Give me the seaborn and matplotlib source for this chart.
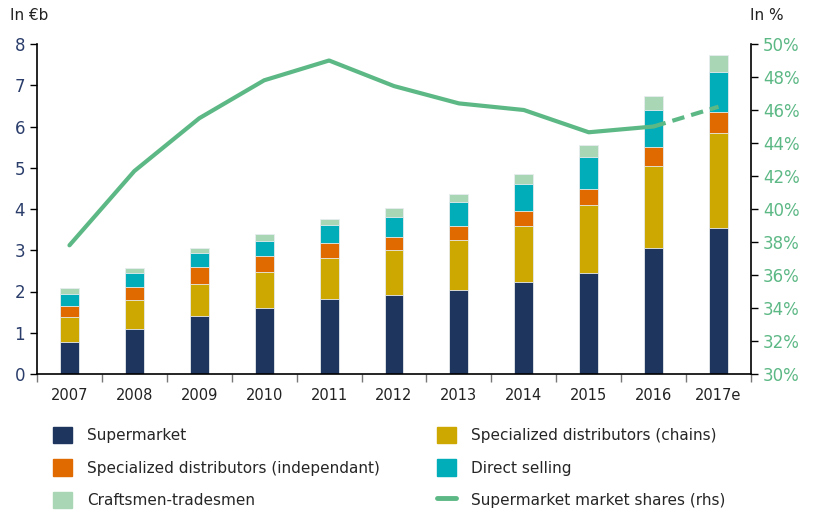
import numpy as np
import pandas as pd
import matplotlib
matplotlib.use("Agg")
import matplotlib.pyplot as plt
import seaborn as sns
from matplotlib.patches import Patch
from matplotlib.lines import Line2D

# data (in EUR bn, stacked layers) and rhs share in %
years = ["2007", "2008", "2009", "2010", "2011", "2012", "2013", "2014", "2015", "2016", "2017e"]
supermarket = [0.78, 1.09, 1.41, 1.61, 1.83, 1.91, 2.04, 2.22, 2.46, 3.05, 3.55]
chains = [0.61, 0.70, 0.78, 0.86, 0.99, 1.10, 1.21, 1.38, 1.64, 1.99, 2.29]
independent = [0.25, 0.32, 0.40, 0.38, 0.35, 0.31, 0.35, 0.34, 0.38, 0.46, 0.52]
direct = [0.31, 0.35, 0.34, 0.38, 0.43, 0.49, 0.58, 0.67, 0.79, 0.90, 0.96]
craftsmen = [0.13, 0.12, 0.12, 0.16, 0.15, 0.21, 0.19, 0.23, 0.27, 0.35, 0.41]
share = [37.8, 42.3, 45.5, 47.8, 49.0, 47.45, 46.4, 46.0, 44.65, 45.0, 46.2]

labels = ["Supermarket", "Specialized distributors (chains)",
          "Specialized distributors (independant)", "Direct selling",
          "Craftsmen-tradesmen"]
colors = ["#1e355e", "#cca800", "#e06a00", "#00adb9", "#a9d6b5"]
line_color = "#5cb885"
navy = "#2a3d6b"

sns.set_style("white")
plt.rcParams["font.family"] = ["DejaVu Sans"]

df = pd.DataFrame({"year": years, labels[0]: supermarket, labels[1]: chains,
                   labels[2]: independent, labels[3]: direct, labels[4]: craftsmen})
cum = df[labels].cumsum(axis=1)

fig = plt.figure(figsize=(8.22, 5.13), dpi=100)
ax = fig.add_axes([37 / 822, 1 - 374 / 513, 714 / 822, 330 / 513])

# stacked bars: draw the cumulative totals from the top layer down
for lab, col in reversed(list(zip(labels, colors))):
    sns.barplot(x=df["year"], y=cum[lab], color=col, width=0.29,
                edgecolor="#e8ecef", linewidth=0.6, saturation=1, ax=ax)

ax.set_xlim(-0.5, len(years) - 0.5)
ax.set_ylim(0, 8)
ax.set_yticks(range(0, 9))
ax.set_xlabel("")
ax.set_ylabel("")
ax.tick_params(axis="y", colors="black", labelcolor=navy, labelsize=12,
               length=5, width=1, left=True, direction="out")
ax.set_xticks(np.arange(-0.5, len(years)), minor=True)
ax.tick_params(axis="x", which="major", length=0, labelsize=10.5, pad=10, labelcolor="#222222")
ax.tick_params(axis="x", which="minor", length=6, width=1, color="#777777", bottom=True)
for s in ["top", "right"]:
    ax.spines[s].set_visible(False)
for s in ["left", "bottom"]:
    ax.spines[s].set_color("black")
    ax.spines[s].set_linewidth(1.2)

ax2 = ax.twinx()
xs = np.arange(len(years))
sns.lineplot(x=xs[:-1], y=share[:-1], color=line_color, linewidth=3, ax=ax2)
sns.lineplot(x=xs[-2:], y=share[-2:], color=line_color, linewidth=3, ax=ax2,
             linestyle=(0, (3, 1.7)))
ax2.set_ylim(30, 50)
ax2.set_yticks(range(30, 51, 2))
ax2.set_yticklabels([f"{v}%" for v in range(30, 51, 2)])
ax2.tick_params(axis="y", colors="black", labelcolor=line_color, labelsize=12,
                length=5, width=1, right=True, direction="out")
ax2.set_ylabel("")
for s in ["top", "left", "bottom"]:
    ax2.spines[s].set_visible(False)
ax2.spines["right"].set_color("black")
ax2.spines["right"].set_linewidth(1.2)
ax2.set_xlim(-0.5, len(years) - 0.5)

fig.text(10 / 822, 1 - 16 / 513, "In €b", fontsize=11, color="#222222", va="center")
fig.text(750 / 822, 1 - 16 / 513, "In %", fontsize=11, color="#222222", va="center")

handles = [Patch(color=colors[0]), Patch(color=colors[2]), Patch(color=colors[4]),
           Patch(color=colors[1]), Patch(color=colors[3]),
           Line2D([], [], color=line_color, linewidth=3.5)]
hlabels = [labels[0], labels[2], labels[4], labels[1], labels[3],
           "Supermarket market shares (rhs)"]
fig.legend(handles, hlabels, ncol=2, loc="upper left", bbox_to_anchor=(47 / 822, 1 - 421 / 513),
           frameon=False, fontsize=11, handlelength=1.25, handleheight=1.25,
           handletextpad=1.0, labelspacing=1.05, columnspacing=3.7, borderaxespad=0)

fig.savefig("out.png", dpi=100)
